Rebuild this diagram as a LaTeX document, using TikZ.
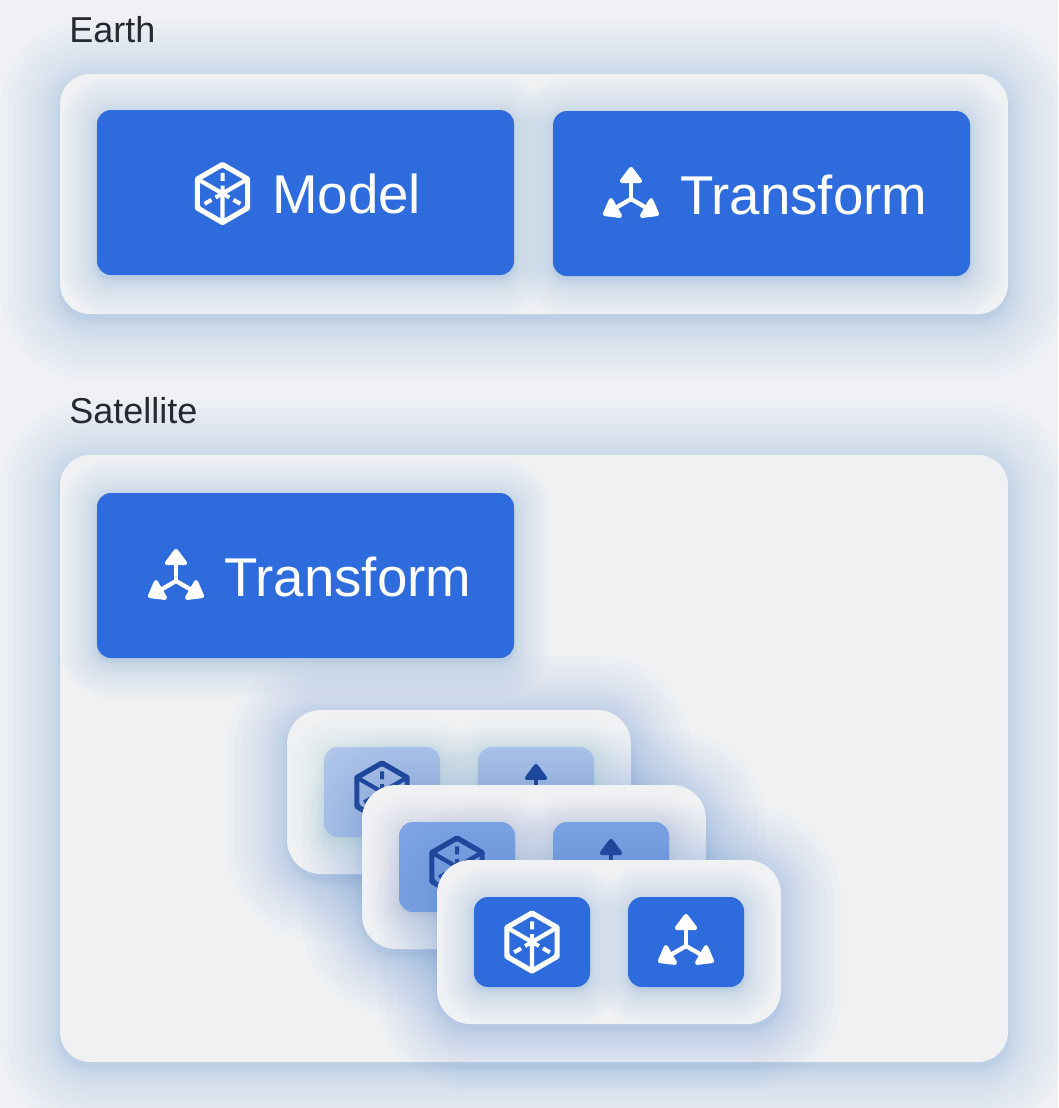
\documentclass[tikz,border=0pt]{standalone}
\usepackage{fontspec}
\setmainfont{Liberation Sans}
\usepackage{xcolor}
\usetikzlibrary{positioning,calc}

\definecolor{pagegray}{HTML}{EFF1F4}
\definecolor{panelgray}{HTML}{EFF1F3}
\definecolor{glowblue}{HTML}{4F86D0}
\definecolor{mainblue}{HTML}{2E6BDD}
\definecolor{midblue}{HTML}{7FA3E6}
\definecolor{paleblue}{HTML}{B0C6EA}
\definecolor{navyicon}{HTML}{173F94}
\definecolor{inktext}{HTML}{25272A}

\tikzset{
    headline/.style={anchor=base west, text=inktext, font=\fontsize{27}{30}\selectfont, inner sep=0pt},
    btntext/.style={anchor=base west, text=white, font=\fontsize{41}{46}\selectfont, inner sep=0pt},
    panelbox/.style={fill=panelgray},
    mainbtn/.style={fill=mainblue},
    midbtn/.style={fill=midblue},
    palebtn/.style={fill=paleblue},
    cubeicon/.pic={
        \draw[line width=3.9pt, line join=round] (-90:29) -- (-30:29) -- (30:29) -- (90:29) -- (150:29) -- (210:29) -- cycle;
        \draw[line width=3.2pt, line cap=round] (0,0) -- (-30:29) (0,0) -- (-150:29) (0,0) -- (90:29);
        \draw[line width=3pt, dash pattern=on 6pt off 3.5pt] (0,0) -- (150:29) (0,0) -- (30:29) (0,0) -- (-90:29);
    },
    axesicon/.pic={
        \foreach \ang in {90,210,330} {
            \begin{scope}[rotate=\ang]
                \draw[line width=3.2pt] (0,0) -- (20,0);
                \fill[line width=3.2pt, draw, line join=round] (30,0) -- (18,-9) -- (18,9) -- cycle;
            \end{scope}
        }
    }
}

% box with a soft blue glow behind it
% #1 name, #2 style, #3 radius, #4 spread, #5 glow strength, #6-#9 x0,y0,x1,y1
\newcommand{\glowbox}[9]{
    \foreach \i in {1,...,16} {
        \pgfmathsetmacro{\e}{#4*pow((17-\i)/16,2)}
        \fill[glowblue, opacity=#5, rounded corners={(#3+\e)*0.75pt}]
            ({#6-\e},{#7-\e+#4*0.1}) rectangle ({#8+\e},{#9+\e+#4*0.1});
    }
    \node[#2, rounded corners=#3*0.75pt, minimum width={((#8)-(#6))*0.75pt}, minimum height={((#9)-(#7))*0.75pt}, inner sep=0pt]
        (#1) at ({(#6+#8)/2},{(#7+#9)/2}) {};
}

\begin{document}
\begin{tikzpicture}[x=0.75pt, y=-0.75pt]
    \useasboundingbox (0,0) rectangle (1058,1108);
    \fill[pagegray] (0,0) rectangle (1058,1108);

    % Earth
    \node[headline] (earthlabel) at (69,42) {Earth};
    \glowbox{earthpanel}{panelbox}{30}{60}{0.021}{60}{74}{1008}{314}
    \glowbox{modelbtn}{mainbtn}{14}{36}{0.02}{97}{110}{514}{275}
    \pic[white] at (222.5,193.5) {cubeicon};
    \node[btntext] (modeltext) at (272,213) {Model};
    \glowbox{transformbtn}{mainbtn}{14}{36}{0.02}{553}{111}{970}{276}
    \pic[white] at (631,199) {axesicon};
    \node[btntext] (transformtext) at (680,214) {Transform};

    % Satellite
    \node[headline] (satellitelabel) at (69,423) {Satellite};
    \glowbox{satellitepanel}{panelbox}{30}{60}{0.021}{60}{455}{1008}{1062}
    \glowbox{satbtn}{mainbtn}{14}{36}{0.02}{97}{493}{514}{658}
    \pic[white] at (176,581) {axesicon};
    \node[btntext] (sattext) at (224,596) {Transform};

    % Stacked cards, back to front
    \foreach \n/\dx/\btn/\icon/\str in {a/0/palebtn/navyicon/0.008, b/75/midbtn/navyicon/0.013, c/150/mainbtn/white/0.02} {
        \glowbox{card\n}{panelbox}{34}{60}{0.024}{287+\dx}{710+\dx}{631+\dx}{874+\dx}
        \glowbox{cube\n}{\btn}{14}{32}{\str}{324+\dx}{747+\dx}{440+\dx}{837+\dx}
        \glowbox{axes\n}{\btn}{14}{32}{\str}{478+\dx}{747+\dx}{594+\dx}{837+\dx}
        \pic[\icon] at (cube\n) {cubeicon};
        \pic[\icon] at ($(axes\n)+(0,4)$) {axesicon};
    }
\end{tikzpicture}
\end{document}
